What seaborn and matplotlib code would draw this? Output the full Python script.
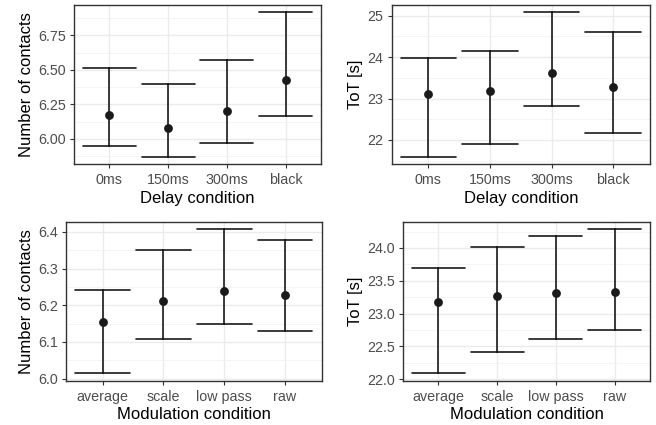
import numpy as np
import pandas as pd
import matplotlib
matplotlib.use("Agg")
import matplotlib.pyplot as plt
import seaborn as sns

# values (mean with lower / upper interval bounds)
delay_labels = ["0ms", "150ms", "300ms", "black"]
delay_contacts_mean = [6.175, 6.080, 6.206, 6.424]
delay_contacts_low = [5.952, 5.871, 5.971, 6.165]
delay_contacts_high = [6.517, 6.398, 6.570, 6.918]
delay_tot_mean = [23.114, 23.170, 23.616, 23.285]
delay_tot_low = [21.594, 21.903, 22.830, 22.178]
delay_tot_high = [23.976, 24.156, 25.083, 24.594]

mod_labels = ["average", "scale", "low pass", "raw"]
mod_contacts_mean = [6.1545, 6.2125, 6.238, 6.227]
mod_contacts_low = [6.0147, 6.108, 6.148, 6.130]
mod_contacts_high = [6.241, 6.350, 6.407, 6.378]
mod_tot_mean = [23.178, 23.266, 23.306, 23.332]
mod_tot_low = [22.088, 22.408, 22.616, 22.750]
mod_tot_high = [23.694, 24.015, 24.184, 24.286]

sns.set_theme(style="whitegrid")
plt.rcParams["font.family"] = ["Liberation Sans", "DejaVu Sans"]


def long_frame(labels, low, mean, high):
    rows = []
    for lab, lo, m, hi in zip(labels, low, mean, high):
        for v in (lo, m, hi):
            rows.append({"cond": lab, "value": v})
    return pd.DataFrame(rows)


def panel(ax, labels, low, mean, high, xlabel, ylabel, ticks, fmt):
    df = long_frame(labels, low, mean, high)
    # median of (low, mean, high) is the mean, 100% interval spans low..high
    sns.pointplot(data=df, x="cond", y="value", order=labels, ax=ax,
                  estimator="median", errorbar=("pi", 100), capsize=0.9,
                  linestyle="none", color="#1a1a1a", markersize=4.3,
                  err_kws={"linewidth": 1.2})
    ax.set_yticks(ticks)
    ax.set_yticklabels([fmt.format(t) for t in ticks])
    step = ticks[1] - ticks[0]
    minors = np.arange(ticks[0] - step / 2, ticks[-1] + step, step)
    ax.set_yticks(minors, minor=True)
    lo, hi = min(low), max(high)
    pad = (hi - lo) * 0.05
    ax.set_ylim(lo - pad, hi + pad)
    ax.set_xlim(-0.6, 3.6)
    ax.grid(True, which="major", color="#EBEBEB", linewidth=1.0)
    ax.grid(True, which="minor", axis="y", color="#F2F2F2", linewidth=0.6)
    ax.set_axisbelow(True)
    for s in ax.spines.values():
        s.set_visible(True)
        s.set_color("#333333")
        s.set_linewidth(1.0)
    ax.tick_params(axis="both", which="major", length=3, width=0.8,
                   color="#333333", labelcolor="#4D4D4D", labelsize=10.3, pad=3,
                   bottom=True, left=True)
    ax.tick_params(axis="x", which="major", pad=3.5)
    ax.tick_params(axis="y", which="minor", length=0)
    ax.set_xlabel(xlabel, fontsize=12, color="black", labelpad=2.5)
    ax.set_ylabel(ylabel, fontsize=12, color="black", labelpad=3)


fig = plt.figure(figsize=(6.56, 4.25), dpi=100)
W, H = 656, 425


def add_axes(left, top, right, bottom):
    return fig.add_axes([left / W, 1 - bottom / H, (right - left) / W, (bottom - top) / H])


ax1 = add_axes(74, 5, 321, 164)
ax2 = add_axes(391.5, 5, 650, 164)
ax3 = add_axes(66, 222, 321.5, 380.5)
ax4 = add_axes(403, 222, 650, 380.5)

panel(ax1, delay_labels, delay_contacts_low, delay_contacts_mean, delay_contacts_high,
      "Delay condition", "Number of contacts", [6.00, 6.25, 6.50, 6.75], "{:.2f}")
panel(ax2, delay_labels, delay_tot_low, delay_tot_mean, delay_tot_high,
      "Delay condition", "ToT [s]", [22, 23, 24, 25], "{:.0f}")
panel(ax3, mod_labels, mod_contacts_low, mod_contacts_mean, mod_contacts_high,
      "Modulation condition", "Number of contacts", [6.0, 6.1, 6.2, 6.3, 6.4], "{:.1f}")
panel(ax4, mod_labels, mod_tot_low, mod_tot_mean, mod_tot_high,
      "Modulation condition", "ToT [s]", [22.0, 22.5, 23.0, 23.5, 24.0], "{:.1f}")

fig.savefig("out.png", dpi=100)
